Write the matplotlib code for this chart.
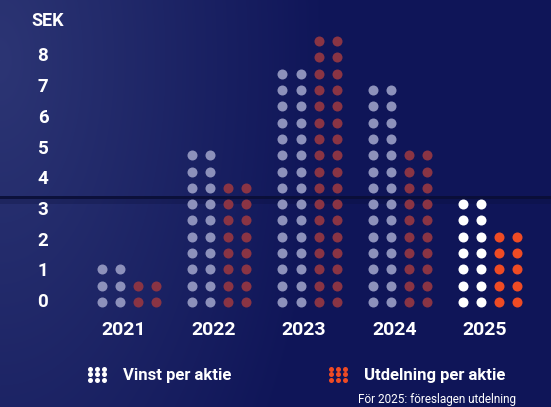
import numpy as np
import matplotlib.pyplot as plt
from matplotlib.legend_handler import HandlerBase
from matplotlib.lines import Line2D

plt.rcParams['font.family'] = ['Roboto', 'DejaVu Sans']

# data: number of dot rows per bar (one row of dots ~ 0.53 SEK)
years = ['2021', '2022', '2023', '2024', '2025']
vinst_rows = [3, 10, 15, 14, 7]
utdelning_rows = [2, 8, 17, 10, 5]
yticks = [0, 1, 2, 3, 4, 5, 6, 7, 8]
row_step = 0.531

vinst_col = '#8d91bb'
vinst_col_new = '#ffffff'
utd_col = '#8a3444'
utd_col_new = '#ef4b24'

W, H = 551, 407
fig = plt.figure(figsize=(5.51, 4.07), dpi=100)

# background gradient + dark horizontal line
bg = fig.add_axes([0, 0, 1, 1])
bg.axis('off')
yy, xx = np.mgrid[0:H, 0:W]
t = np.clip(np.sqrt((xx / 330.0) ** 2 + ((yy - 60) / 650.0) ** 2), 0, 1)
light = np.array([0x2c, 0x35, 0x74]) / 255
dark = np.array([0x0f, 0x15, 0x58]) / 255
img = light * (1 - t[..., None]) + dark * t[..., None]
bg.imshow(img, extent=[0, W, H, 0], aspect='auto')
bg.set_xlim(0, W)
bg.set_ylim(H, 0)
bg.axhspan(195.5, 199, color='#0a0e36', alpha=0.9, lw=0)
bg.axhspan(199, 204, color='#0a0e36', alpha=0.25, lw=0)

# chart axes (x in dot columns, y in SEK)
px_col, px_sek, x0, y0 = 18.05, 30.7, 102, 302
ax = fig.add_axes([0, 0, 1, 1], facecolor='none')
ax.set_xlim(-x0 / px_col, (W - x0) / px_col)
ax.set_ylim((y0 - H) / px_sek, y0 / px_sek)
ax.axis('off')

for i, yr in enumerate(years):
    vc = vinst_col_new if yr == '2025' else vinst_col
    uc = utd_col_new if yr == '2025' else utd_col
    base = 5 * i
    for k, (n, c) in enumerate([(vinst_rows[i], vc), (utdelning_rows[i], uc)]):
        rows = np.arange(n) * row_step
        xs = np.concatenate([np.full(n, base + 2 * k), np.full(n, base + 2 * k + 1)])
        ax.scatter(xs, np.concatenate([rows, rows]), s=52, c=c, linewidths=0, zorder=3)
    ax.text(base + 1.2, -0.91, yr, ha='center', va='center', color='white',
            fontsize=14, fontweight='bold')

for v in yticks:
    ax.text(-3.27, v, str(v), ha='center', va='center', color='white',
            fontsize=13.5, fontweight='bold')
ax.text(-3.0, (y0 - 21) / px_sek, 'SEK', ha='center', va='center', color='white',
        fontsize=13, fontweight='bold')


class DotGrid(HandlerBase):
    def create_artists(self, legend, orig_handle, xdescent, ydescent,
                       width, height, fontsize, trans):
        r = 1.8
        gx, gy = np.meshgrid(np.linspace(r, width - r, 3), np.linspace(r, height - r, 3))
        ln = Line2D(gx.ravel() - xdescent, gy.ravel() - ydescent, ls='none', marker='o',
                    ms=3.6, mfc=orig_handle.get_color(), mec='none', transform=trans)
        return [ln]


def dot_legend(label, color, px_x, px_y):
    h = Line2D([], [], color=color)
    lg = fig.legend(handles=[h], labels=[label], loc='center left',
                    bbox_to_anchor=(px_x / W, 1 - px_y / H), frameon=False,
                    borderpad=0, borderaxespad=0, handlelength=1.14, handleheight=1.02,
                    handletextpad=1.0, handler_map={Line2D: DotGrid()},
                    prop={'size': 12, 'weight': 'bold'})
    for txt in lg.get_texts():
        txt.set_color('white')
    return lg


dot_legend('Vinst per aktie', 'white', 87, 375)
dot_legend('Utdelning per aktie', utd_col_new, 328, 375)

fig.text(358 / W, 1 - 400 / H, 'För 2025: föreslagen utdelning', color='white',
         fontsize=8.5, va='center', ha='left')

fig.savefig('out.png', dpi=100)
